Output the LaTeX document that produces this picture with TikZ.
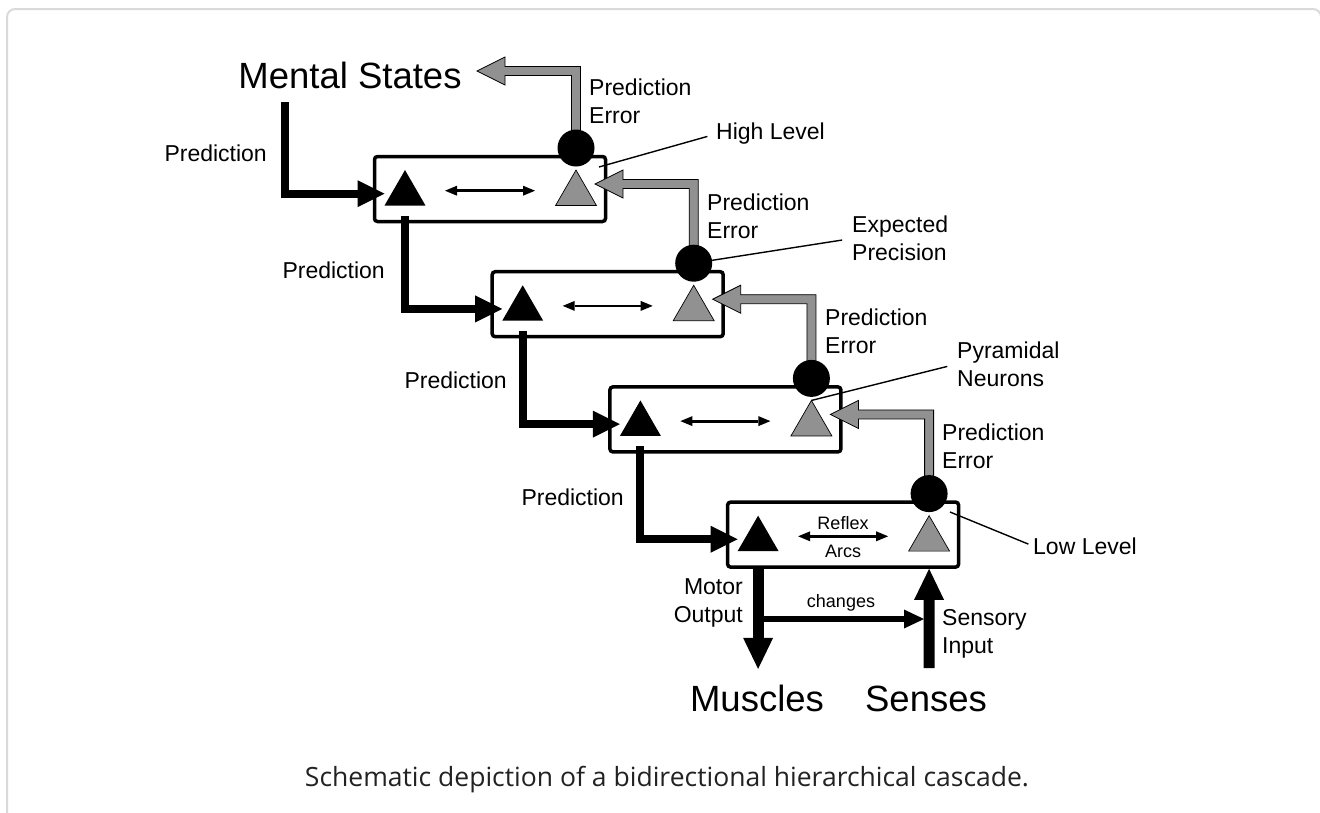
\documentclass[tikz,border=0pt]{standalone}
\usepackage{fontspec}
\setmainfont{Liberation Sans}
\newfontfamily\capfont{Open Sans}
\usetikzlibrary{arrows.meta,shapes.geometric,calc}
\definecolor{hatch}{RGB}{145,145,145}
\definecolor{framecol}{RGB}{218,218,218}
\definecolor{capcol}{RGB}{34,34,34}
\newcommand\grayarrow[2]{%
  \filldraw[garrow] let \p1=(#1.center), \p2=(#2) in
    (\x1-4.5pt,\y1) -- (\x1-4.5pt,\y2-4.5pt) -- (\x2+28pt,\y2-4.5pt) -- (\x2+28pt,\y2-14pt)
    -- (\p2) -- (\x2+28pt,\y2+14pt) -- (\x2+28pt,\y2+4.5pt) -- (\x1+4.5pt,\y2+4.5pt)
    -- (\x1+4.5pt,\y1) -- cycle;}
\begin{document}
\begin{tikzpicture}[x=1pt,y=-1pt,
  levelbox/.style={draw, line width=3.5pt, rounded corners=3pt, minimum width=231pt, minimum height=65pt, inner sep=0pt},
  ptri/.style={regular polygon, regular polygon sides=3, minimum size=47.3pt, inner sep=0pt, outer sep=0pt, fill=black},
  gtri/.style={regular polygon, regular polygon sides=3, minimum size=47.3pt, inner sep=0pt, outer sep=0pt, fill=hatch, draw=black, line width=0.7pt},
  errdot/.style={circle, fill=black, minimum size=37pt, inner sep=0pt},
  garrow/.style={fill=hatch, draw=black, line width=0.8pt, line join=miter},
  lbl/.style={font=\fontsize{23}{28}\selectfont, inner sep=0pt, align=left},
  bigl/.style={font=\fontsize{36.5}{40}\selectfont, inner sep=0pt},
  smalll/.style={font=\fontsize{18}{20}\selectfont, inner sep=0pt},
  pred/.style={line width=8pt, -{Triangle[length=27pt,width=27pt,line width=0pt]}},
  dbl/.style={line width=2.8pt, {Triangle[length=12pt,width=10pt,line width=0pt]}-{Triangle[length=12pt,width=10pt,line width=0pt]}, shorten <=40pt, shorten >=41pt},
  leader/.style={line width=1.4pt},
  motor/.style={line width=11pt, -{Triangle[length=31pt,width=30pt,line width=0pt]}},
  chg/.style={line width=6pt, -{Triangle[length=20pt,width=19pt,line width=0pt]}, shorten >=5pt}
]
\useasboundingbox (0,0) rectangle (1320,812);
\draw[framecol, line width=2pt, rounded corners=8pt] (7,9) rectangle (1321,880);

% boxes
\foreach \i/\cx/\cy in {0/490/189, 1/607.7/304.2, 2/725.4/419.4, 3/843.1/534.6}{
  \node[levelbox] (b\i) at (\cx,\cy) {};
  \node[ptri] (t\i) at (\cx-85,\cy+4.7) {};
  \node[gtri] (g\i) at (\cx+86,\cy+4.7) {};
  \coordinate (e\i) at (\cx+86,\cy-41);
  \coordinate (gt\i) at (\cx+105,\cy-5);
  \draw[dbl] ([yshift=3pt]t\i.center) -- ([yshift=3pt]g\i.center);
}
\coordinate (ms) at (477,71);

% gray prediction error arrows
\grayarrow{e0}{ms}
\grayarrow{e1}{gt0}
\grayarrow{e2}{gt1}
\grayarrow{e3}{gt2}
\foreach \i in {0,1,2,3}{\node[errdot] (c\i) at (e\i) {};}

% black prediction arrows
\coordinate (pstart) at (285,102);
\draw[pred] (pstart) |- (t0.corner 2 |- t0.center);
\draw[pred] ([yshift=-22.3pt]t0.center) |- (t1.corner 2 |- t1.center);
\draw[pred] ([yshift=-22.3pt]t1.center) |- (t2.corner 2 |- t2.center);
\draw[pred] ([yshift=-22.3pt]t2.center) |- (t3.corner 2 |- t3.center);

% bottom
\coordinate (sensbot) at (929,668);
\draw[motor] (t3.center |- b3.south) -- ++(0,100);
\draw[motor] (sensbot) -- (g3.center |- b3.south);
\coordinate (chs) at (758,619);
\draw[chg] (chs) -- (chs -| sensbot);

% labels
\node[bigl] (mental) at (350,75) {Mental States};
\node[bigl, anchor=base] (muscles) at (757,711) {Muscles};
\node[bigl, anchor=base] (senses) at (926,711) {Senses};
\node[lbl, anchor=east] (p1) at (267,153) {Prediction};
\node[lbl, anchor=east] (p2) at (385,270) {Prediction};
\node[lbl, anchor=east] (p3) at (507,380) {Prediction};
\node[lbl, anchor=east] (p4) at (624,497) {Prediction};
\node[lbl, anchor=west] (pe1) at (589,101) {Prediction\\Error};
\node[lbl, anchor=west] (pe2) at (707,216.5) {Prediction\\Error};
\node[lbl, anchor=west] (pe3) at (825,331) {Prediction\\Error};
\node[lbl, anchor=west] (pe4) at (942,446) {Prediction\\Error};
\node[lbl, anchor=west] (hl) at (716,134) {High Level};
\node[lbl, anchor=west] (ep) at (852,238.5) {Expected\\Precision};
\node[lbl, anchor=west] (pn) at (957,364) {Pyramidal\\Neurons};
\node[lbl, anchor=west] (ll) at (1033,546) {Low Level};
\node[lbl, anchor=east, align=right] (mo) at (743,603) {Motor\\Output};
\node[lbl, anchor=west] (si) at (942,634) {Sensory\\Input};
\node[smalll] (rf) at (843,523) {Reflex};
\node[smalll] (ar) at (843,551) {Arcs};
\node[smalll] (ch) at (841,603) {changes};

% leader lines
\coordinate (hlp) at (599,167);
\draw[leader, shorten >=9pt] (hlp) -- (hl.west);
\draw[leader, shorten >=10pt] (c1) -- (ep.west);
\draw[leader, shorten >=10pt] (g2.corner 1) -- (pn.west);
\coordinate (llp) at (950,512);
\draw[leader, shorten >=5pt] (llp) -- (ll.west);

\node[font=\capfont\fontsize{26.5}{30}\selectfont, text=capcol, inner sep=0pt] (cap) at (667,780) {Schematic depiction of a bidirectional hierarchical cascade.};
\end{tikzpicture}
\end{document}
